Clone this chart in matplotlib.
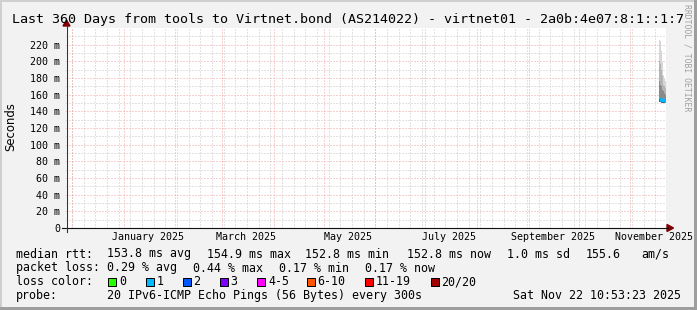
import datetime as dt
import matplotlib
matplotlib.use("Agg")
import matplotlib.pyplot as plt
import matplotlib.dates as mdates
from matplotlib.lines import Line2D
from matplotlib.patches import Rectangle, Polygon
from matplotlib.transforms import blended_transform_factory

W, H = 697, 310
MONO = "DejaVu Sans Mono"

title_text = "Last 360 Days from tools to Virtnet.bond (AS214022) - virtnet01 - 2a0b:4e07:8:1::1:7"
end_time = dt.datetime(2025, 11, 22, 10, 53, 23)
start_time = end_time - dt.timedelta(days=360)

# y axis (milliseconds)
y_ticks = [0, 20, 40, 60, 80, 100, 120, 140, 160, 180, 200, 220]
y_labels = ["0"] + [f"{v} m" for v in y_ticks[1:]]

# month labels (centred mid-month)
month_labels = ["January 2025", "March 2025", "May 2025", "July 2025",
                "September 2025", "November 2025"]
month_label_dates = [dt.datetime(2025, m, 15, 12) for m in (1, 3, 5, 7, 9, 11)]

# smoke data: one column per rrd step (14.4 h), values in ms
step = dt.timedelta(hours=14.4)
smoke_max = [226, 225, 213, 199, 184, 180, 177]
smoke_p90 = [200, 197, 190, 182, 172, 170, 168]
smoke_p75 = [176, 172, 170, 166, 164, 162, 160]
median_rtt = [154.6, 154.3, 154.0, 153.8, 153.5, 153.2, 152.8]
smoke_p25 = [153.0, 152.8, 152.5, 152.3, 152.1, 151.8, 151.5]
smoke_min = [151.0, 150.8, 150.6, 150.5, 150.3, 150.0, 149.8]

# legend
stats_rtt = ["153.8 ms avg", "154.9 ms max", "152.8 ms min", "152.8 ms now",
             "1.0 ms sd", "155.6", "am/s"]
stats_rtt_x = [107, 207, 305, 407, 507, 586, 641]
stats_loss = ["0.29 % avg", "0.44 % max", "0.17 % min", "0.17 % now"]
stats_loss_x = [107, 193, 279, 365]
loss_labels = ["0", "1", "2", "3", "4-5", "6-10", "11-19", "20/20"]
loss_colors = ["#26ff00", "#00b8ff", "#0059ff", "#7e00ff", "#ff00ff",
               "#ff5500", "#ff0000", "#a10000"]
loss_box_x = [108, 145.5, 182.5, 219.5, 257, 306.5, 365, 430.5]
probe_text = "20 IPv6-ICMP Echo Pings (56 Bytes) every 300s"
date_text = "Sat Nov 22 10:53:23 2025"


def fx(x):
    return x / W


def fy(y):
    return 1 - y / H


fig = plt.figure(figsize=(W / 100, H / 100), dpi=100, facecolor="#f2f2f2")

# frame shading ######################################
fig.patches.extend([
    Rectangle((0, fy(2)), 1, 2 / H, transform=fig.transFigure, color="#cfcfcf", lw=0),
    Rectangle((0, 0), fx(2), 1, transform=fig.transFigure, color="#cfcfcf", lw=0),
    Rectangle((0, 0), 1, 3 / H, transform=fig.transFigure, color="#9e9e9e", lw=0),
    Rectangle((fx(W - 3), 0), fx(3), 1, transform=fig.transFigure, color="#9e9e9e", lw=0),
])

ax = fig.add_axes([fx(66), fy(228), fx(600), fy(28) - fy(228)])
ax.set_facecolor("white")
ax.set_xlim(start_time, end_time)
ax.set_ylim(0, 240)
for s in ax.spines.values():
    s.set_visible(False)
ax.set_xticks([])
ax.set_yticks([])

# grid ###############################################
dots = (0, (1, 2))
minor_c = "#c6c6c6"
major_c = "#f0a4a4"
weeks = mdates.drange(dt.datetime(2024, 12, 1), end_time, dt.timedelta(days=7))
months = [dt.datetime(2024 + (m - 1) // 12, (m - 1) % 12 + 1, 1) for m in range(12, 24)]
for w in weeks:
    ax.axvline(w, color=minor_c, lw=0.72, ls=dots, zorder=1)
for v in range(10, 240, 20):
    ax.axhline(v, color=minor_c, lw=0.72, ls=dots, zorder=1)
for m in months:
    ax.axvline(m, color=major_c, lw=0.72, ls=dots, zorder=2)
for v in y_ticks[1:]:
    ax.axhline(v, color=major_c, lw=0.72, ls=dots, zorder=2)

# smoke ##############################################
times = [end_time - step * (len(median_rtt) - i) for i in range(len(median_rtt) + 1)]


def ext(a):
    return list(a) + [a[-1]]


bands = [smoke_min, smoke_p25, median_rtt, smoke_p75, smoke_p90, smoke_max]
band_colors = ["#606060", "#404040", "#8a8a8a", "#b4b4b4", "#d6d6d6"]
for lo, hi, c in zip(bands[:-1], bands[1:], band_colors):
    ax.fill_between(times, ext(lo), ext(hi), step="post", color=c, lw=0, zorder=3)
ax.plot(times, ext(median_rtt), drawstyle="steps-post", color="#00b8ff", lw=2.2,
        solid_capstyle="butt", zorder=4)

# axes lines and arrows ##############################
fig.add_artist(Line2D([fx(62), fx(668)], [fy(228), fy(228)], color="#111111", lw=0.8))
fig.add_artist(Line2D([fx(66.5), fx(66.5)], [fy(232), fy(25)], color="#333333", lw=0.8))
fig.add_artist(Polygon([(fx(667), fy(224.5)), (fx(673.5), fy(228)), (fx(667), fy(231.5))],
                       closed=True, color="#7f0000", transform=fig.transFigure))
fig.add_artist(Polygon([(fx(63), fy(26)), (fx(66.5), fy(20)), (fx(70), fy(26))],
                       closed=True, color="#7f0000", transform=fig.transFigure))

# tick labels ########################################
ytrans = blended_transform_factory(fig.transFigure, ax.transData)
for v, lab in zip(y_ticks, y_labels):
    fig.text(fx(60), v, lab, transform=ytrans, ha="right", va="center_baseline",
             family=MONO, fontsize=7.2)
xtrans = blended_transform_factory(ax.transData, fig.transFigure)
for d, lab in zip(month_label_dates, month_labels):
    ax.text(mdates.date2num(d), fy(240.5), lab, transform=xtrans, ha="center",
            va="baseline", family=MONO, fontsize=7.2, clip_on=False)

fig.text(fx(10.5), fy(127), "Seconds", rotation=90, ha="center", va="center",
         family="DejaVu Sans", fontsize=8.4)

# title ##############################################
fig.text(fx(12.5), fy(23), title_text, family=MONO, fontsize=9.6, va="baseline")
fig.text(fx(686.5), fy(4), "RRDTOOL / TOBI OETIKER", rotation=-90, ha="center",
         va="top", family=MONO, fontsize=5.9, color="#a0a0a0")

# legend #############################################
fs = 8.4
fig.text(fx(16), fy(257.5), "median rtt:", family=MONO, fontsize=fs, va="baseline")
for s, x in zip(stats_rtt, stats_rtt_x):
    fig.text(fx(x), fy(257.5), s, family=MONO, fontsize=fs, va="baseline")
fig.text(fx(16), fy(271.5), "packet loss:", family=MONO, fontsize=fs, va="baseline")
for s, x in zip(stats_loss, stats_loss_x):
    fig.text(fx(x), fy(271.5), s, family=MONO, fontsize=fs, va="baseline")
fig.text(fx(16), fy(285.3), "loss color:", family=MONO, fontsize=fs, va="baseline")
for lab, c, x in zip(loss_labels, loss_colors, loss_box_x):
    fig.add_artist(Rectangle((fx(x), fy(286)), fx(8), fy(278) - fy(286),
                             transform=fig.transFigure, facecolor=c,
                             edgecolor="black", lw=0.72))
    fig.text(fx(x + 11), fy(285.3), lab, family=MONO, fontsize=fs, va="baseline")
fig.text(fx(16), fy(299.3), "probe:", family=MONO, fontsize=fs, va="baseline")
fig.text(fx(107), fy(299.3), probe_text, family=MONO, fontsize=fs, va="baseline")
fig.text(fx(513), fy(299.3), date_text, family=MONO, fontsize=fs, va="baseline")

fig.savefig("out.png", dpi=100, facecolor=fig.get_facecolor())
